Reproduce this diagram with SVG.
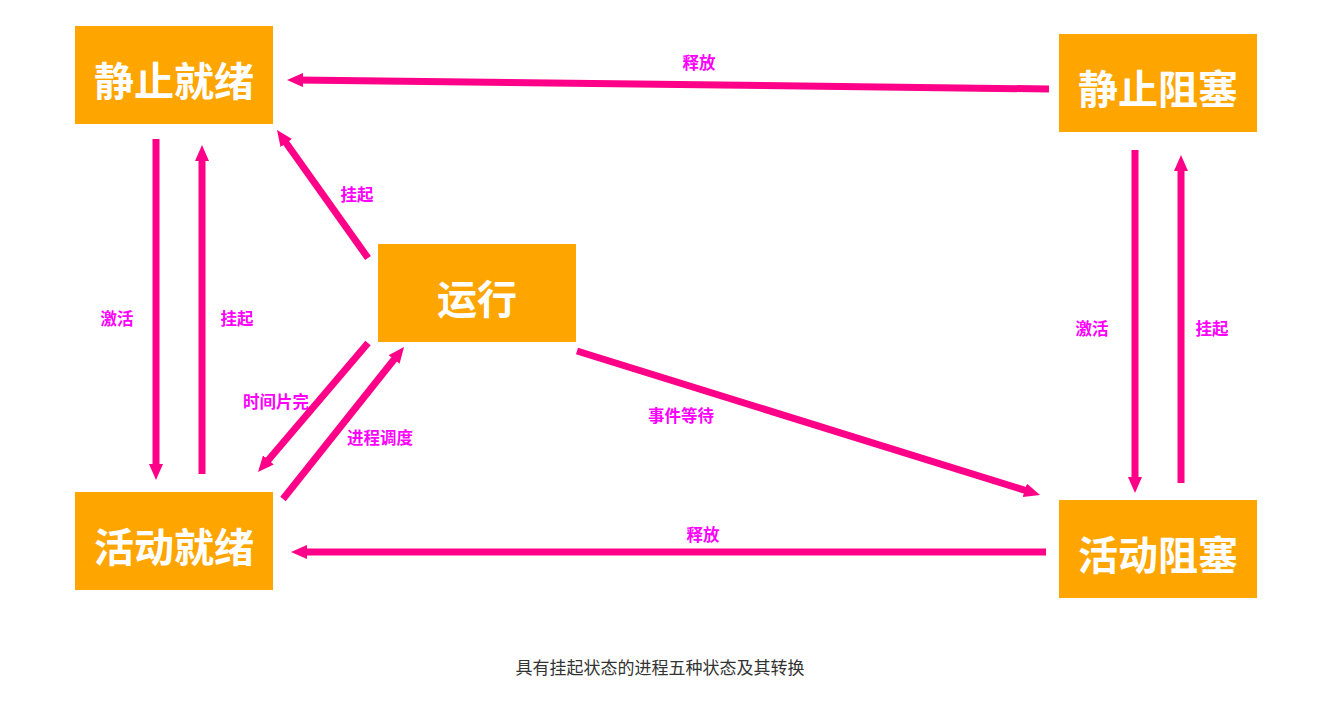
<svg xmlns="http://www.w3.org/2000/svg" width="1321" height="705" viewBox="0 0 1321 705">
<style>
.box{fill:#FFA500}
.nt{font-family:"Noto Sans CJK SC","Noto Sans",sans-serif;font-weight:bold;font-size:40px;fill:#fff;text-anchor:middle;dominant-baseline:central}
.lb{font-family:"Noto Sans CJK SC","Noto Sans",sans-serif;font-weight:bold;font-size:16.5px;fill:#FF00FF;text-anchor:middle;dominant-baseline:central}
.cap{font-family:"Noto Sans CJK SC","Noto Sans",sans-serif;font-size:17px;fill:#333;text-anchor:middle;dominant-baseline:central}
.ar{stroke:#FF0088;stroke-width:7;fill:none;marker-end:url(#ah)}
</style>
<defs>
<marker id="ah" markerUnits="userSpaceOnUse" markerWidth="18" markerHeight="16" refX="6" refY="7" orient="auto" viewBox="0 0 18 16">
<path d="M0,0 L16,7 L0,14 z" fill="#FF0088"/>
</marker>
</defs>
<rect width="1321" height="705" fill="#fff"/>
<g id="connectors">
<line class="ar" x1="1049" y1="89" x2="297" y2="80"/>
<line class="ar" x1="156" y1="139" x2="156" y2="470"/>
<line class="ar" x1="202" y1="474" x2="202" y2="155"/>
<line class="ar" x1="368" y1="258" x2="282.8" y2="138.2"/>
<line class="ar" x1="368" y1="343" x2="264.5" y2="464.4"/>
<line class="ar" x1="283" y1="499" x2="397.8" y2="354.8"/>
<line class="ar" x1="577" y1="351" x2="1030.5" y2="492"/>
<line class="ar" x1="1046" y1="552" x2="301" y2="552"/>
<line class="ar" x1="1135" y1="150" x2="1135" y2="483"/>
<line class="ar" x1="1181" y1="483" x2="1181" y2="165"/>
</g>
<g id="labels">
<text class="lb" x="699" y="62">释放</text>
<text class="lb" x="357" y="194">挂起</text>
<text class="lb" x="117" y="318">激活</text>
<text class="lb" x="237" y="318">挂起</text>
<text class="lb" x="276" y="401">时间片完</text>
<text class="lb" x="380" y="437">进程调度</text>
<text class="lb" x="681" y="415">事件等待</text>
<text class="lb" x="703" y="534">释放</text>
<text class="lb" x="1092" y="328">激活</text>
<text class="lb" x="1212" y="328">挂起</text>
</g>
<g id="n-static-ready"><rect class="box" x="75" y="26" width="198" height="98"/><text class="nt" x="174" y="79">静止就绪</text></g>
<g id="n-static-blocked"><rect class="box" x="1059" y="34" width="198" height="98"/><text class="nt" x="1158" y="87">静止阻塞</text></g>
<g id="n-running"><rect class="box" x="378" y="244" width="198" height="98"/><text class="nt" x="477" y="297">运行</text></g>
<g id="n-active-ready"><rect class="box" x="75" y="492" width="198" height="98"/><text class="nt" x="174" y="545">活动就绪</text></g>
<g id="n-active-blocked"><rect class="box" x="1059" y="500" width="198" height="98"/><text class="nt" x="1158" y="553">活动阻塞</text></g>
<text class="cap" x="660" y="666">具有挂起状态的进程五种状态及其转换</text>
</svg>
